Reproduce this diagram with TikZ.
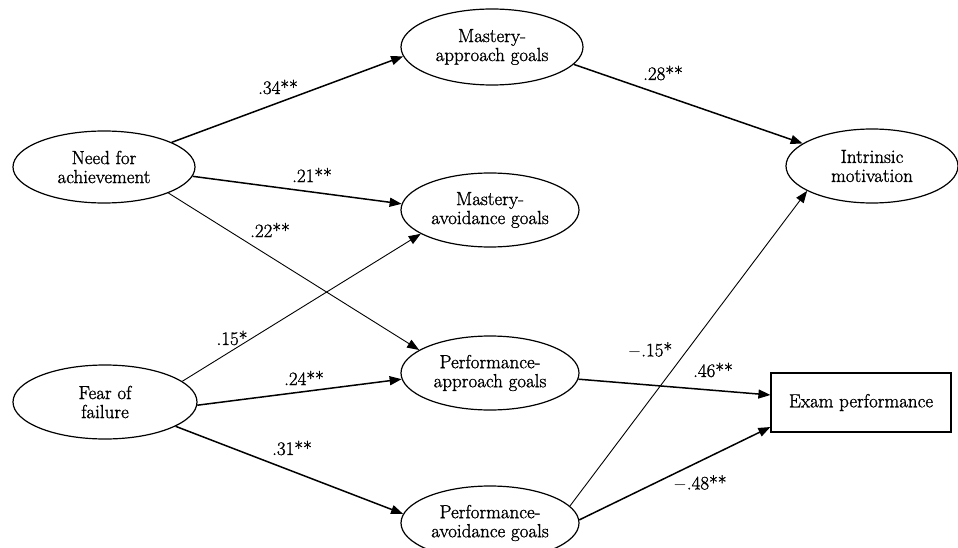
\documentclass[tikz,border=0pt]{standalone}
\usepackage{fontspec}
\setmainfont{Latin Modern Roman}[FakeBold=1.2]
\usetikzlibrary{shapes.geometric,arrows.meta}
\begin{document}
\begin{tikzpicture}[x=1pt,y=-1pt,
  ell/.style={ellipse,draw,line width=1.2pt,inner sep=0pt,align=center,font=\fontsize{19}{19}\selectfont},
  arr/.style={line width=1.5pt,-{Triangle[length=12pt,width=9pt]}},
  thinarr/.style={line width=0.9pt,-{Triangle[length=12pt,width=9pt]}},
  lab/.style={font=\fontsize{19}{19}\selectfont,inner sep=0pt}]
\useasboundingbox (0,0) rectangle (958,548);
\clip (0,0) rectangle (958,548);
\fill[white] (0,0) rectangle (958,548);
\node[ell,minimum width=182pt,minimum height=72pt] (need) at (104,167) {Need for\\achievement};
\node[ell,minimum width=184pt,minimum height=74pt] (fear) at (105,402) {Fear of\\failure};
\node[ell,minimum width=182pt,minimum height=76pt] (map) at (492,47) {Mastery-\\approach goals};
\node[ell,minimum width=178pt,minimum height=74pt] (mav) at (490,210) {Mastery-\\avoidance goals};
\node[ell,minimum width=178pt,minimum height=74pt] (pap) at (490,373) {Performance-\\approach goals};
\node[ell,minimum width=178pt,minimum height=74pt] (pav) at (490,523) {Performance-\\avoidance goals};
\node[ell,minimum width=172pt,minimum height=74pt] (im) at (872,166) {Intrinsic\\motivation};
\node[draw,line width=1.2pt,minimum width=180pt,minimum height=59pt,inner sep=0pt,font=\fontsize{19}{19}\selectfont] (exam) at (861,402.5) {Exam performance};
\draw[arr] (need.20) -- (map.186);
\draw[arr] (need.-6.5) -- (mav.176);
\draw[thinarr] (need.-22) -- (pap.162);
\draw[thinarr] (fear.15) -- (mav.199);
\draw[arr] (fear.-2.5) -- (pap.184);
\draw[arr] (fear.-19) -- (pav.174);
\draw[arr] (map.-12) -- (im.162);
\draw[thinarr] (pav.12) -- (im.201);
\draw[arr] (pap.-4.5) -- ([yshift=7.5pt]exam.west);
\draw[arr] (pav.2) -- ([yshift=-24.5pt]exam.west);
\node[lab] (l34) at (278,87) {.34**};
\node[lab] (l21) at (312,175) {.21**};
\node[lab] (l22) at (270,230) {.22**};
\node[lab] (l15) at (232,338) {.15*};
\node[lab] (l24) at (304,378) {.24**};
\node[lab] (l31) at (292,448) {.31**};
\node[lab] (l28) at (663,73) {.28**};
\node[lab] (lm15) at (650,350) {$-$.15*};
\node[lab] (l46) at (713,370) {.46**};
\node[lab] (lm48) at (700,483) {$-$.48**};
\end{tikzpicture}
\end{document}
